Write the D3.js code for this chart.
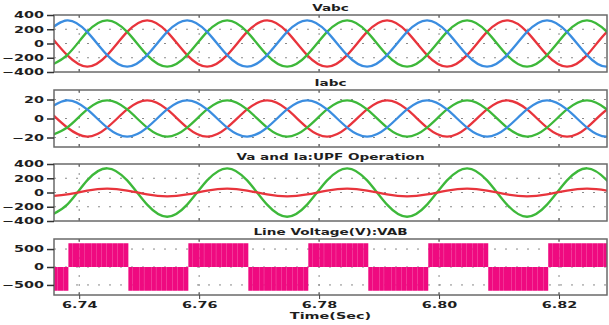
<!DOCTYPE html>
<html>
<head>
<meta charset="utf-8">
<script src="https://cdn.jsdelivr.net/npm/d3@7"></script>
<style>
    body { margin: 0; background: #fff; }
    text { font-family: "DejaVu Sans", Verdana, sans-serif; font-weight: bold; fill: #1e1e1e; }
</style>
</head>
<body>
<svg id="chart" width="609" height="325"></svg>
<script>
// sample instants (s), one every 1/6 of a 50 Hz cycle
const time = [6.73467, 6.73800, 6.74133, 6.74467, 6.74800, 6.75133, 6.75467, 6.75800, 6.76133, 6.76467,
    6.76800, 6.77133, 6.77467, 6.77800, 6.78133, 6.78467, 6.78800, 6.79133, 6.79467, 6.79800,
    6.80133, 6.80467, 6.80800, 6.81133, 6.81467, 6.81800, 6.82133, 6.82467, 6.82800, 6.83133];

// Vabc (V)
const vabcRed = [163, -163, -325, -163, 163, 325, 163, -163, -325, -163, 163, 325, 163, -163, -325,
    -163, 163, 325, 163, -163, -325, -163, 163, 325, 163, -163, -325, -163, 163, 325];
const vabcGreen = [-325, -163, 163, 325, 163, -163, -325, -163, 163, 325, 163, -163, -325, -163, 163,
    325, 163, -163, -325, -163, 163, 325, 163, -163, -325, -163, 163, 325, 163, -163];
const vabcBlue = [163, 325, 163, -163, -325, -163, 163, 325, 163, -163, -325, -163, 163, 325, 163,
    -163, -325, -163, 163, 325, 163, -163, -325, -163, 163, 325, 163, -163, -325, -163];

// Iabc (A)
const iabcRed = [9.5, -9.5, -19, -9.5, 9.5, 19, 9.5, -9.5, -19, -9.5, 9.5, 19, 9.5, -9.5, -19,
    -9.5, 9.5, 19, 9.5, -9.5, -19, -9.5, 9.5, 19, 9.5, -9.5, -19, -9.5, 9.5, 19];
const iabcGreen = [-19, -9.5, 9.5, 19, 9.5, -9.5, -19, -9.5, 9.5, 19, 9.5, -9.5, -19, -9.5, 9.5,
    19, 9.5, -9.5, -19, -9.5, 9.5, 19, 9.5, -9.5, -19, -9.5, 9.5, 19, 9.5, -9.5];
const iabcBlue = [9.5, 19, 9.5, -9.5, -19, -9.5, 9.5, 19, 9.5, -9.5, -19, -9.5, 9.5, 19, 9.5,
    -9.5, -19, -9.5, 9.5, 19, 9.5, -9.5, -19, -9.5, 9.5, 19, 9.5, -9.5, -19, -9.5];

// Va and Ia, UPF operation
const vaUpf = [-340, -170, 170, 340, 170, -170, -340, -170, 170, 340, 170, -170, -340, -170, 170,
    340, 170, -170, -340, -170, 170, 340, 170, -170, -340, -170, 170, 340, 170, -170];
const iaUpf = [-55, -27.5, 27.5, 55, 27.5, -27.5, -55, -27.5, 27.5, 55, 27.5, -27.5, -55, -27.5, 27.5,
    55, 27.5, -27.5, -55, -27.5, 27.5, 55, 27.5, -27.5, -55, -27.5, 27.5, 55, 27.5, -27.5];

// line voltage VAB: switching edges (s), level held after each edge (V), PWM notches (ms into each half cycle)
const vabEdges = [6.7282, 6.7382, 6.7482, 6.7582, 6.7682, 6.7782, 6.7882, 6.7982, 6.8082, 6.8182, 6.8282, 6.8382];
const vabLevels = [-660, 660, -660, 660, -660, 660, -660, 660, -660, 660, -660];
const vabNotches = [0.7, 1.8, 2.6, 3.9, 4.6, 5.5, 6.4, 7.3, 8.2, 9.2];

const xTicks = [6.74, 6.76, 6.78, 6.80, 6.82];

const red = "#e8343c", green = "#3db83a", blue = "#3b8de0", pink = "#ef0a80";

const svg = d3.select("#chart");
const left = 54, right = 607;
const sx = 1.6; // text is drawn wide

const x = d3.scaleLinear().domain([6.7358, 6.8280]).range([left, right]);

const panels = [
    {title: "Vabc", top: 15, bottom: 72, domain: [-400, 400], ticks: [-400, -200, 0, 200, 400], grid: [-200, 0, 200],
        lines: [[vabcRed, red], [vabcGreen, green], [vabcBlue, blue]]},
    {title: "Iabc", top: 90, bottom: 147, domain: [-30, 30], ticks: [-20, 0, 20], grid: [-20, 0, 20],
        lines: [[iabcRed, red], [iabcGreen, green], [iabcBlue, blue]]},
    {title: "Va and Ia:UPF Operation", top: 164, bottom: 221, domain: [-400, 400], ticks: [-400, -200, 0, 200, 400], grid: [-200, 0, 200],
        lines: [[vaUpf, green], [iaUpf, red]]},
    {title: "Line Voltage(V):VAB", top: 239, bottom: 295, domain: [-780, 780], ticks: [-500, 0, 500], grid: [-500, 0, 500],
        lines: []}
];

panels.forEach(function (p, i) {
    const y = d3.scaleLinear().domain(p.domain).range([p.bottom, p.top]);
    const g = svg.append("g");

    g.append("clipPath").attr("id", "clip" + i)
        .append("rect")
        .attr("x", left).attr("y", p.top)
        .attr("width", right - left).attr("height", p.bottom - p.top);

    // dotted grid
    g.selectAll(".hgrid").data(p.grid).enter().append("line")
        .attr("x1", left).attr("x2", right)
        .attr("y1", d => y(d)).attr("y2", d => y(d))
        .attr("stroke", "#8a8a8a").attr("stroke-width", 1)
        .attr("stroke-dasharray", "2,9");
    g.selectAll(".vgrid").data(xTicks).enter().append("line")
        .attr("x1", d => x(d)).attr("x2", d => x(d))
        .attr("y1", p.top).attr("y2", p.bottom)
        .attr("stroke", "#8a8a8a").attr("stroke-width", 1)
        .attr("stroke-dasharray", "2,7");

    const plot = g.append("g").attr("clip-path", "url(#clip" + i + ")");

    p.lines.forEach(function (s) {
        plot.append("path")
            .datum(s[0])
            .attr("fill", "none")
            .attr("stroke", s[1])
            .attr("stroke-width", 2.3)
            .attr("d", d3.line()
                .x((d, k) => x(time[k]))
                .y(d => y(d))
                .curve(d3.curveNatural));
    });

    if (i === 3) {
        // build the switched waveform from edges and notches
        const pts = [];
        vabLevels.forEach(function (lv, k) {
            pts.push([vabEdges[k], lv]);
            vabNotches.forEach(function (o) {
                const t = vabEdges[k] + o / 1000;
                if (t < vabEdges[k + 1]) {
                    pts.push([t, 0]);
                    pts.push([t + 0.00003, lv]);
                }
            });
        });
        pts.push([vabEdges[vabEdges.length - 1], 0]);
        plot.append("path")
            .datum(pts)
            .attr("fill", pink)
            .attr("d", d3.area()
                .x(d => x(d[0]))
                .y0(y(0))
                .y1(d => y(d[1]))
                .curve(d3.curveStepAfter));
    }

    // small ticks on top and bottom border
    g.selectAll(".tt").data(xTicks).enter().append("line")
        .attr("x1", d => x(d)).attr("x2", d => x(d))
        .attr("y1", p.top).attr("y2", p.top + 3)
        .attr("stroke", "#555");
    g.selectAll(".tb").data(xTicks).enter().append("line")
        .attr("x1", d => x(d)).attr("x2", d => x(d))
        .attr("y1", p.bottom - 3).attr("y2", p.bottom)
        .attr("stroke", "#555");

    g.append("rect")
        .attr("x", left).attr("y", p.top)
        .attr("width", right - left).attr("height", p.bottom - p.top)
        .attr("fill", "none")
        .attr("stroke", "#6a6a6a")
        .attr("stroke-width", 1.5);

    const yAxis = g.append("g")
        .attr("transform", `translate(${left},0)`)
        .call(d3.axisLeft(y).tickValues(p.ticks).tickSize(7).tickPadding(3).tickFormat(d3.format("d")));
    yAxis.select(".domain").remove();
    yAxis.selectAll("line").attr("stroke", "#333").attr("stroke-width", 1.5);
    yAxis.selectAll("text")
        .attr("font-size", 9)
        .attr("x", -10 / sx)
        .attr("transform", `scale(${sx},1)`);

    g.append("text")
        .attr("text-anchor", "middle")
        .attr("font-size", 8.5)
        .attr("transform", `translate(${(left + right) / 2},${p.top - 4}) scale(${sx},1)`)
        .text(p.title);
});

// time axis under the last panel
const xAxis = svg.append("g")
    .attr("transform", "translate(0,295)")
    .call(d3.axisBottom(x).tickValues(xTicks).tickSize(4).tickPadding(3).tickFormat(d3.format(".2f")));
xAxis.select(".domain").remove();
xAxis.selectAll("line").attr("stroke", "#444");
xAxis.selectAll("text")
    .attr("font-size", 9)
    .attr("transform", `scale(${sx},1)`)
    .attr("x", 0);

svg.append("text")
    .attr("text-anchor", "middle")
    .attr("font-size", 9)
    .attr("transform", `translate(${(left + right) / 2},319) scale(${sx},1)`)
    .text("Time(Sec)");
</script>
</body>
</html>
